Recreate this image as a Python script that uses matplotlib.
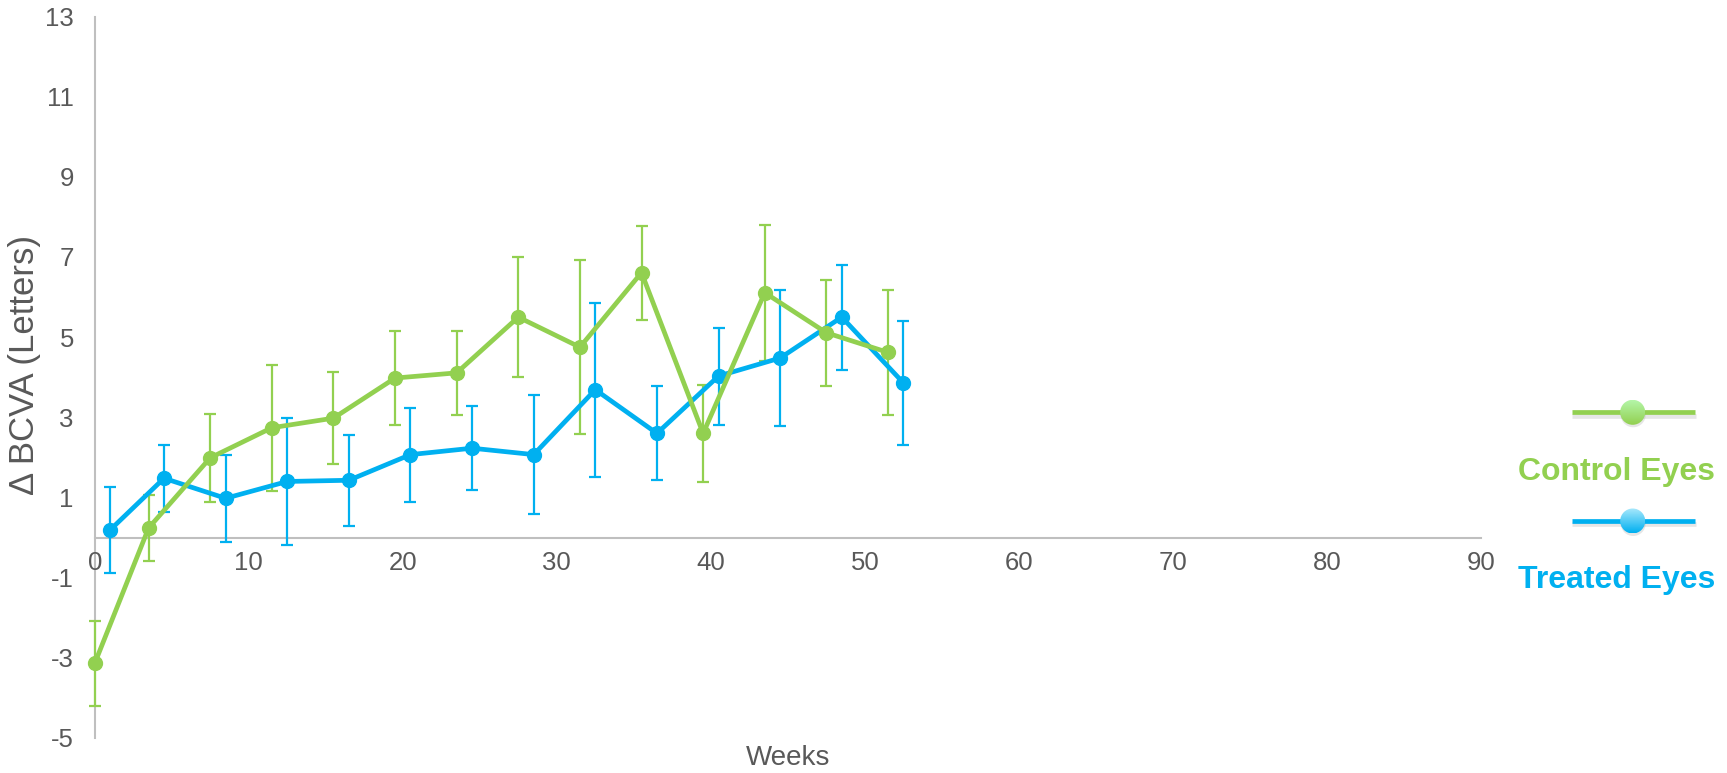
import matplotlib
matplotlib.use("Agg")
import matplotlib.pyplot as plt
import matplotlib.patheffects as pe
import numpy as np
from matplotlib.patches import Circle

plt.rcParams['font.family'] = ['Liberation Sans', 'DejaVu Sans']
plt.rcParams['axes.unicode_minus'] = False

# change in BCVA from baseline, mean +/- error, by study week
control_weeks = [0, 3.5, 7.5, 11.5, 15.5, 19.5, 23.5, 27.5, 31.5, 35.5, 39.5, 43.5, 47.5, 51.5]
control_mean = [-3.14, 0.24, 1.99, 2.74, 2.98, 3.98, 4.11, 5.50, 4.75, 6.61, 2.60, 6.11, 5.11, 4.62]
control_err = [1.06, 0.83, 1.09, 1.57, 1.15, 1.18, 1.05, 1.50, 2.17, 1.17, 1.21, 1.70, 1.32, 1.55]

treated_weeks = [1, 4.5, 8.5, 12.5, 16.5, 20.5, 24.5, 28.5, 32.5, 36.5, 40.5, 44.5, 48.5, 52.5]
treated_mean = [0.19, 1.48, 0.98, 1.40, 1.43, 2.07, 2.23, 2.07, 3.69, 2.60, 4.03, 4.48, 5.50, 3.86]
treated_err = [1.08, 0.83, 1.09, 1.58, 1.14, 1.17, 1.05, 1.49, 2.17, 1.17, 1.21, 1.69, 1.31, 1.55]

x_ticks = list(range(0, 91, 10))
y_ticks = list(range(-5, 14, 2))

GREEN = '#92D050'
BLUE = '#00B0F0'
AXIS_GREY = '#BFBFBF'
TEXT_GREY = '#595959'

W, H = 1727, 773
fig = plt.figure(figsize=(W / 100, H / 100), dpi=100)
ax = fig.add_axes([94.7 / W, 1 - 738 / H, (1481 - 94.7) / W, (738 - 16.5) / H])

for weeks, mean, err, color in [(treated_weeks, treated_mean, treated_err, BLUE),
                                (control_weeks, control_mean, control_err, GREEN)]:
    ax.errorbar(weeks, mean, yerr=err, color=color, lw=3.4, marker='o', ms=10,
                elinewidth=1.6, capsize=4.5, capthick=1.6, clip_on=False, zorder=3)

ax.set_xlim(0, 90)
ax.set_ylim(-5, 13)
ax.set_xticks(x_ticks)
ax.set_yticks(y_ticks)

for s in ['top', 'right']:
    ax.spines[s].set_visible(False)
ax.spines['bottom'].set_position(('data', 0))
for s in ['left', 'bottom']:
    ax.spines[s].set_color(AXIS_GREY)
    ax.spines[s].set_linewidth(1.5)
    ax.spines[s].set_zorder(1)

ax.tick_params(axis='x', length=0, pad=10, labelsize=18.5, labelcolor=TEXT_GREY)
ax.tick_params(axis='y', length=0, pad=15, labelsize=18.5, labelcolor=TEXT_GREY)

ax.set_xlabel('Weeks', fontsize=20, color=TEXT_GREY, va='center')
ax.xaxis.set_label_coords(0.5, -0.0277)
ax.set_ylabel('\u0394 BCVA (Letters)', fontsize=25, color=TEXT_GREY, va='center', ha='center')
ax.yaxis.set_label_coords(-0.0505, 0.517)

# legend drawn in pixel coordinates on an overlay
lg = fig.add_axes([0, 0, 1, 1])
lg.set_xlim(0, W)
lg.set_ylim(H, 0)
lg.axis('off')

shadow = [pe.SimpleLineShadow(offset=(0.5, -2.5), shadow_color='#909090', alpha=0.22), pe.Normal()]


def legend_entry(y_line, y_text, label, color, light):
    lg.plot([1571.7, 1695], [y_line, y_line], color=color, lw=3.4,
            solid_capstyle='butt', path_effects=shadow)
    cx, r = 1632.7, 12.5
    lg.add_patch(Circle((cx + 0.5, y_line + 2.5), r, color='#909090', alpha=0.22, lw=0))
    grad = np.linspace(0, 1, 64).reshape(-1, 1)
    cmap = matplotlib.colors.LinearSegmentedColormap.from_list('g', [light, color])
    im = lg.imshow(grad, cmap=cmap, extent=(cx - r, cx + r, y_line + r, y_line - r),
                   aspect='auto', zorder=3)
    circ = Circle((cx, y_line), r, transform=lg.transData, fc='none', lw=0)
    lg.add_patch(circ)
    im.set_clip_path(circ)
    lg.text(1617, y_text, label, color=color, fontsize=23, fontweight='bold',
            ha='center', va='center')


legend_entry(412.3, 471.7, 'Control Eyes', GREEN, '#B4F5A8')
legend_entry(521, 580, 'Treated Eyes', BLUE, '#A8E8FC')
lg.set_xlim(0, W)
lg.set_ylim(H, 0)

fig.savefig('out.png', dpi=100)
